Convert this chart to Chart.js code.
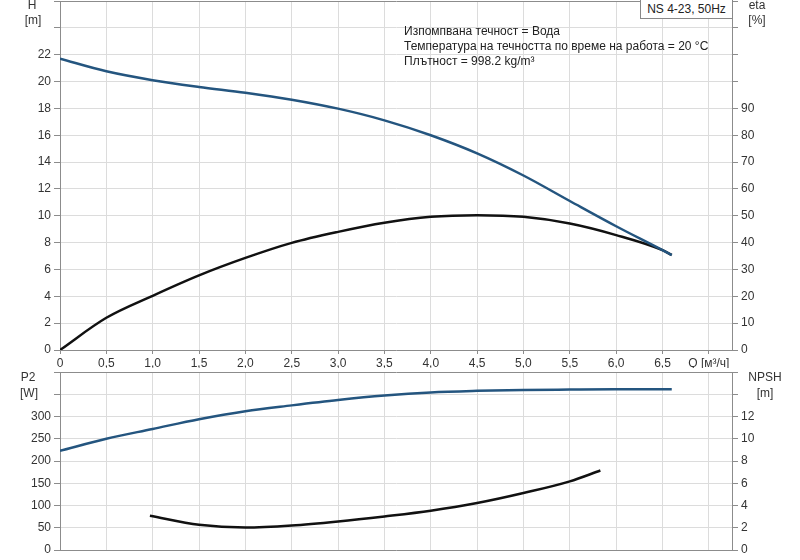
<!DOCTYPE html>
<html>
<head>
<meta charset="utf-8">
<script src="https://cdn.jsdelivr.net/npm/chart.js@4.4.0/dist/chart.umd.min.js"></script>
<style>
  body { margin: 0; background: #fff; font-family: "Liberation Sans", Arial, sans-serif; }
  #wrap { position: relative; width: 800px; height: 560px; overflow: hidden; }
  canvas { position: absolute; left: 0; }
  .lbl { position: absolute; font-size: 12px; color: #333; line-height: 14px; white-space: nowrap; }
  .c { transform: translateX(-50%); text-align: center; }
  #info { position: absolute; left: 404px; top: 24px; font-size: 12px; line-height: 15px; color: #222; }
  #model { position: absolute; left: 640px; top: -1px; width: 91px; height: 18px; border: 1px solid #888;
           background: #fff; font-size: 12px; line-height: 18px; color: #222; text-align: center; }
</style>
</head>
<body>
<div id="wrap">
  <canvas id="top" width="800" height="368" style="top:0"></canvas>
  <canvas id="bottom" width="800" height="192" style="top:368px"></canvas>

  <div class="lbl c" style="left:32px;top:-2px">H</div>
  <div class="lbl c" style="left:33px;top:13px">[m]</div>
  <div class="lbl c" style="left:757px;top:-2px">eta</div>
  <div class="lbl c" style="left:757px;top:13px">[%]</div>
  <div class="lbl c" style="left:28px;top:370px">P2</div>
  <div class="lbl c" style="left:29px;top:386px">[W]</div>
  <div class="lbl c" style="left:765px;top:370px">NPSH</div>
  <div class="lbl c" style="left:765px;top:386px">[m]</div>

  <div id="info">
    Изпомпвана течност = Вода<br>
    Температура на течността по време на работа = 20 °C<br>
    Плътност = 998.2 kg/m³
  </div>
  <div id="model">NS 4-23, 50Hz</div>
</div>

<script>
// flow Q [m3/h]
const qMain = [0, 0.5, 1.0, 1.5, 2.0, 2.5, 3.0, 3.5, 4.0, 4.5, 5.0, 5.5, 6.0, 6.5, 6.6]
const head = [21.7, 20.76, 20.1, 19.6, 19.17, 18.65, 17.98, 17.11, 16.0, 14.65, 13.0, 11.1, 9.22, 7.44, 7.07]
const eta = [0, 12.0, 20.2, 27.8, 34.3, 39.9, 44.0, 47.4, 49.6, 50.2, 49.6, 47.1, 42.8, 37.2, 35.4]
const p2 = [223, 250, 272, 294, 312, 325, 337, 347, 354, 357.6, 359.8, 360.5, 361, 361, 361]

const qNpsh = [0.97, 1.5, 2.0, 2.5, 3.0, 3.5, 4.0, 4.5, 5.0, 5.5, 5.83]
const npsh = [3.08, 2.27, 2.03, 2.21, 2.57, 3.02, 3.53, 4.22, 5.12, 6.17, 7.15]

// x grid / tick positions, the 7.0 slot carries the axis title
const qTicks = [0, 0.5, 1.0, 1.5, 2.0, 2.5, 3.0, 3.5, 4.0, 4.5, 5.0, 5.5, 6.0, 6.5, 7.0]

const BLUE = '#24557f'
const BLACK = '#111'
const GRID = '#dcdcdc'
const AXIS = '#8c8c8c'
const FONT = { family: '"Liberation Sans", Arial, sans-serif', size: 12 }

const pts = (xs, ys) => xs.map((x, i) => ({ x: x, y: ys[i] }))

const fmtQ = v => (v === 0 ? '0' : v.toFixed(1).replace('.', ','))

function line(data, color, axis) {
  return {
    data: data,
    yAxisID: axis,
    borderColor: color,
    borderWidth: 2.5,
    pointRadius: 0,
    fill: false,
    cubicInterpolationMode: 'monotone',
  }
}

function xAxis(showLabels, height) {
  return {
    type: 'linear',
    min: 0,
    max: 7.25,
    border: { color: AXIS },
    grid: { color: GRID, tickColor: AXIS, tickLength: showLabels ? 4 : 0 },
    ticks: {
      display: showLabels,
      color: '#333',
      font: FONT,
      padding: 2,
      maxRotation: 0,
      autoSkip: false,
      callback: v => (v === 7 ? 'Q [м³/ч]' : fmtQ(v)),
    },
    afterBuildTicks: s => { s.ticks = qTicks.map(v => ({ value: v })) },
    afterFit: s => {
      s.height = height
      s.paddingLeft = 0
      s.paddingRight = 0
    },
  }
}

function yAxis(pos, min, max, step, lastLabel, width, drawGrid) {
  return {
    type: 'linear',
    position: pos,
    min: min,
    max: max,
    border: { color: AXIS },
    grid: {
      display: true,
      drawOnChartArea: drawGrid,
      color: ctx => (ctx.tick && ctx.tick.value === max ? AXIS : GRID),
      tickColor: AXIS,
      tickLength: 6,
    },
    ticks: {
      stepSize: step,
      color: '#333',
      font: FONT,
      padding: 3,
      callback: v => (v > lastLabel ? '' : v),
    },
    afterFit: s => {
      s.width = width
      s.paddingTop = 0
      s.paddingBottom = 0
    },
  }
}

const baseOpts = {
  responsive: false,
  animation: false,
  devicePixelRatio: 1,
  plugins: { legend: { display: false }, tooltip: { enabled: false } },
}

new Chart(document.getElementById('top'), {
  type: 'line',
  data: {
    datasets: [
      line(pts(qMain, head), BLUE, 'yH'),
      line(pts(qMain, eta), BLACK, 'yEta'),
    ],
  },
  options: Object.assign({}, baseOpts, {
    layout: { padding: { top: 1, bottom: 0, left: 0, right: 0 } },
    scales: {
      x: xAxis(true, 18),
      yH: yAxis('left', 0, 26, 2, 22, 60, true),
      yEta: yAxis('right', 0, 130, 10, 90, 68, false),
    },
  }),
})

new Chart(document.getElementById('bottom'), {
  type: 'line',
  data: {
    datasets: [
      line(pts(qMain, p2), BLUE, 'yP'),
      line(pts(qNpsh, npsh), BLACK, 'yN'),
    ],
  },
  options: Object.assign({}, baseOpts, {
    layout: { padding: { top: 4, bottom: 0, left: 0, right: 0 } },
    scales: {
      x: xAxis(false, 10),
      yP: yAxis('left', 0, 400, 50, 300, 60, true),
      yN: yAxis('right', 0, 16, 2, 12, 68, false),
    },
  }),
})
</script>
</body>
</html>
